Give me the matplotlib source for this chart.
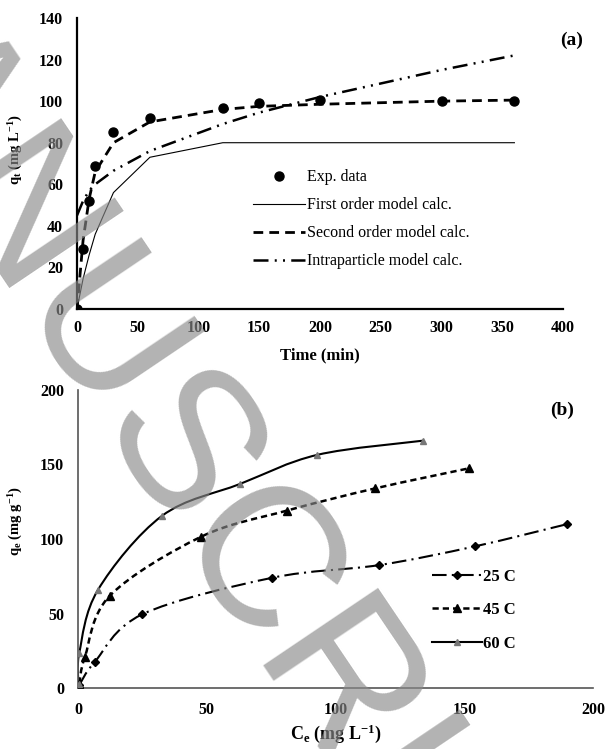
import numpy as np
import matplotlib
matplotlib.use("Agg")
import matplotlib.pyplot as plt
from matplotlib.path import Path
from matplotlib.patches import PathPatch
from matplotlib.lines import Line2D

plt.rcParams['font.family'] = 'Liberation Serif'
plt.rcParams['mathtext.fontset'] = 'custom'
plt.rcParams['mathtext.rm'] = 'Liberation Serif'
plt.rcParams['mathtext.bf'] = 'Liberation Serif:bold'
plt.rcParams['mathtext.it'] = 'Liberation Serif:italic'

# (a) kinetics
time = [0, 5, 10, 15, 30, 60, 120, 150, 200, 300, 360]
q_exp = [0, 29, 52, 69, 85, 92, 96.5, 99, 100.5, 100, 100]
q_first = [0, 14.5, 26, 36, 56, 73, 80, 80, 80, 80, 80]
q_second = [0, 33, 53, 66, 80, 90, 96, 97.5, 98.5, 100, 100.5]
q_intra = [45, 52, 57, 60, 66.5, 76, 89, 94.5, 102, 115, 122]

# (b) isotherms
ce_25 = [0.5, 6.5, 25, 75.5, 117, 154, 190]
q_25 = [2, 17.5, 49.5, 74, 82.5, 95, 110]
ce_45 = [0.5, 2.7, 12.4, 47.8, 81, 115.5, 152]
q_45 = [3, 21, 62, 101.5, 119, 134, 147.5]
ce_60 = [0.2, 0.5, 7.8, 32.6, 63, 93, 134]
q_60 = [3, 23.5, 66, 115.5, 137, 156.5, 166]


def smooth_path(x, y):
    # excel-like smoothed line (catmull-rom as cubic bezier)
    p = np.column_stack([x, y]).astype(float)
    verts = [p[0]]
    codes = [Path.MOVETO]
    for i in range(len(p) - 1):
        p0 = p[i - 1] if i > 0 else p[i]
        p3 = p[i + 2] if i + 2 < len(p) else p[i + 1]
        c1 = p[i] + (p[i + 1] - p0) / 6
        c2 = p[i + 1] - (p3 - p[i]) / 6
        verts += [c1, c2, p[i + 1]]
        codes += [Path.CURVE4] * 3
    return Path(verts, codes)


fig = plt.figure(figsize=(6.14, 7.49), dpi=100)

# ---- panel (a)
ax1 = fig.add_axes([77/614, 1-309/749, 486/614, 291/749])
ax1.plot(time, q_first, color='black', lw=0.8, label='First order model calc.')
ax1.plot(time, q_second, color='black', lw=2, linestyle=(0, (3.5, 2.2)),
         label='Second order model calc.')
ax1.plot(time, q_intra, color='black', lw=1.8, linestyle=(0, (6, 2.5, 0.8, 2.5, 0.8, 2.5)),
         label='Intraparticle model calc.')
ax1.plot(time, q_exp, 'o', color='black', ms=6.5, label='Exp. data', zorder=5)
ax1.set_xlim(0, 400)
ax1.set_ylim(0, 140)
ax1.set_xticks(range(0, 401, 50))
ax1.set_yticks(range(0, 141, 20))
for s in ['top', 'right']:
    ax1.spines[s].set_visible(False)
for s in ['left', 'bottom']:
    ax1.spines[s].set_linewidth(1.6)
ax1.tick_params(length=0, labelsize=11.5, pad=8)
ax1.tick_params(axis='y', pad=10)
for t in ax1.get_xticklabels() + ax1.get_yticklabels():
    t.set_fontweight('bold')
ax1.set_xlabel('Time (min)', fontsize=12, fontweight='bold', labelpad=8)
ax1.set_ylabel(r'q$_{\mathbf{t}}$ (mg L$^{\mathbf{-1}}$)', fontsize=10.5, fontweight='bold')
ax1.yaxis.set_label_coords(-0.107, 0.55)
h, l = ax1.get_legend_handles_labels()
order = [3, 0, 1, 2]
ax1.legend([h[i] for i in order], [l[i] for i in order], frameon=False, fontsize=11.5,
           loc='upper left', bbox_to_anchor=(247/614, 1-163/749), bbox_transform=fig.transFigure,
           handlelength=3.2, handletextpad=0.15, labelspacing=0.75, borderaxespad=0)
fig.text(572/614, 1-40/749, '(a)', fontsize=14, fontweight='bold', ha='center', va='center')

# ---- panel (b)
ax2 = fig.add_axes([78/614, 1-688/749, 515/614, 298/749])
styles = [
    (ce_25, q_25, dict(lw=1.5, linestyle=(0, (7, 2.5, 1, 2.5))), dict(marker='D', ms=4.5, color='black'), '25 C'),
    (ce_45, q_45, dict(lw=1.8, linestyle=(0, (2.5, 1.6))), dict(marker='^', ms=6, color='black'), '45 C'),
    (ce_60, q_60, dict(lw=1.5, linestyle='-'), dict(marker='^', ms=4, color='#777777'), '60 C'),
]
handles = []
for x, y, lkw, mkw, lab in styles:
    ax2.add_patch(PathPatch(smooth_path(x, y), facecolor='none', edgecolor='black', **lkw))
    ax2.plot(x, y, linestyle='none', **mkw, zorder=4)
    handles.append(Line2D([], [], color='black', lw=lkw['lw'], linestyle=lkw['linestyle'],
                          marker=mkw['marker'], ms=mkw['ms'], markerfacecolor=mkw['color'],
                          markeredgecolor=mkw['color']))
ax2.set_xlim(0, 200)
ax2.set_ylim(0, 200)
ax2.set_xticks(range(0, 201, 50))
ax2.set_yticks(range(0, 201, 50))
for s in ['top', 'right']:
    ax2.spines[s].set_visible(False)
for s in ['left', 'bottom']:
    ax2.spines[s].set_linewidth(1.2)
    ax2.spines[s].set_color('#555555')
ax2.tick_params(length=0, labelsize=11.5, pad=10)
ax2.tick_params(axis='y', pad=10)
for t in ax2.get_xticklabels() + ax2.get_yticklabels():
    t.set_fontweight('bold')
ax2.set_xlabel(r'C$_{\mathbf{e}}$ (mg L$^{\mathbf{-1}}$)', fontsize=13, fontweight='bold', labelpad=3)
ax2.set_ylabel(r'q$_{\mathbf{e}}$ (mg g$^{\mathbf{-1}}$)', fontsize=10.5, fontweight='bold')
ax2.yaxis.set_label_coords(-0.103, 0.56)
leg2 = ax2.legend(handles, [s[4] for s in styles], frameon=False, fontsize=12, loc='upper left',
                  bbox_to_anchor=(425/614, 1-562/749), bbox_transform=fig.transFigure,
                  handlelength=3.0, handletextpad=0.1, labelspacing=1.05, borderaxespad=0)
for t in leg2.get_texts():
    t.set_fontweight('bold')
fig.text(562/614, 1-410/749, '(b)', fontsize=14, fontweight='bold', ha='center', va='center')

# watermark
fig.text(-238/614, 1+53/749, 'MANUSCRIPT', fontsize=144, family='Liberation Sans',
         rotation=-56, rotation_mode='anchor', ha='left', va='baseline',
         color='#8a8a8a', alpha=0.65, zorder=20)

fig.savefig('out.png', dpi=100)
